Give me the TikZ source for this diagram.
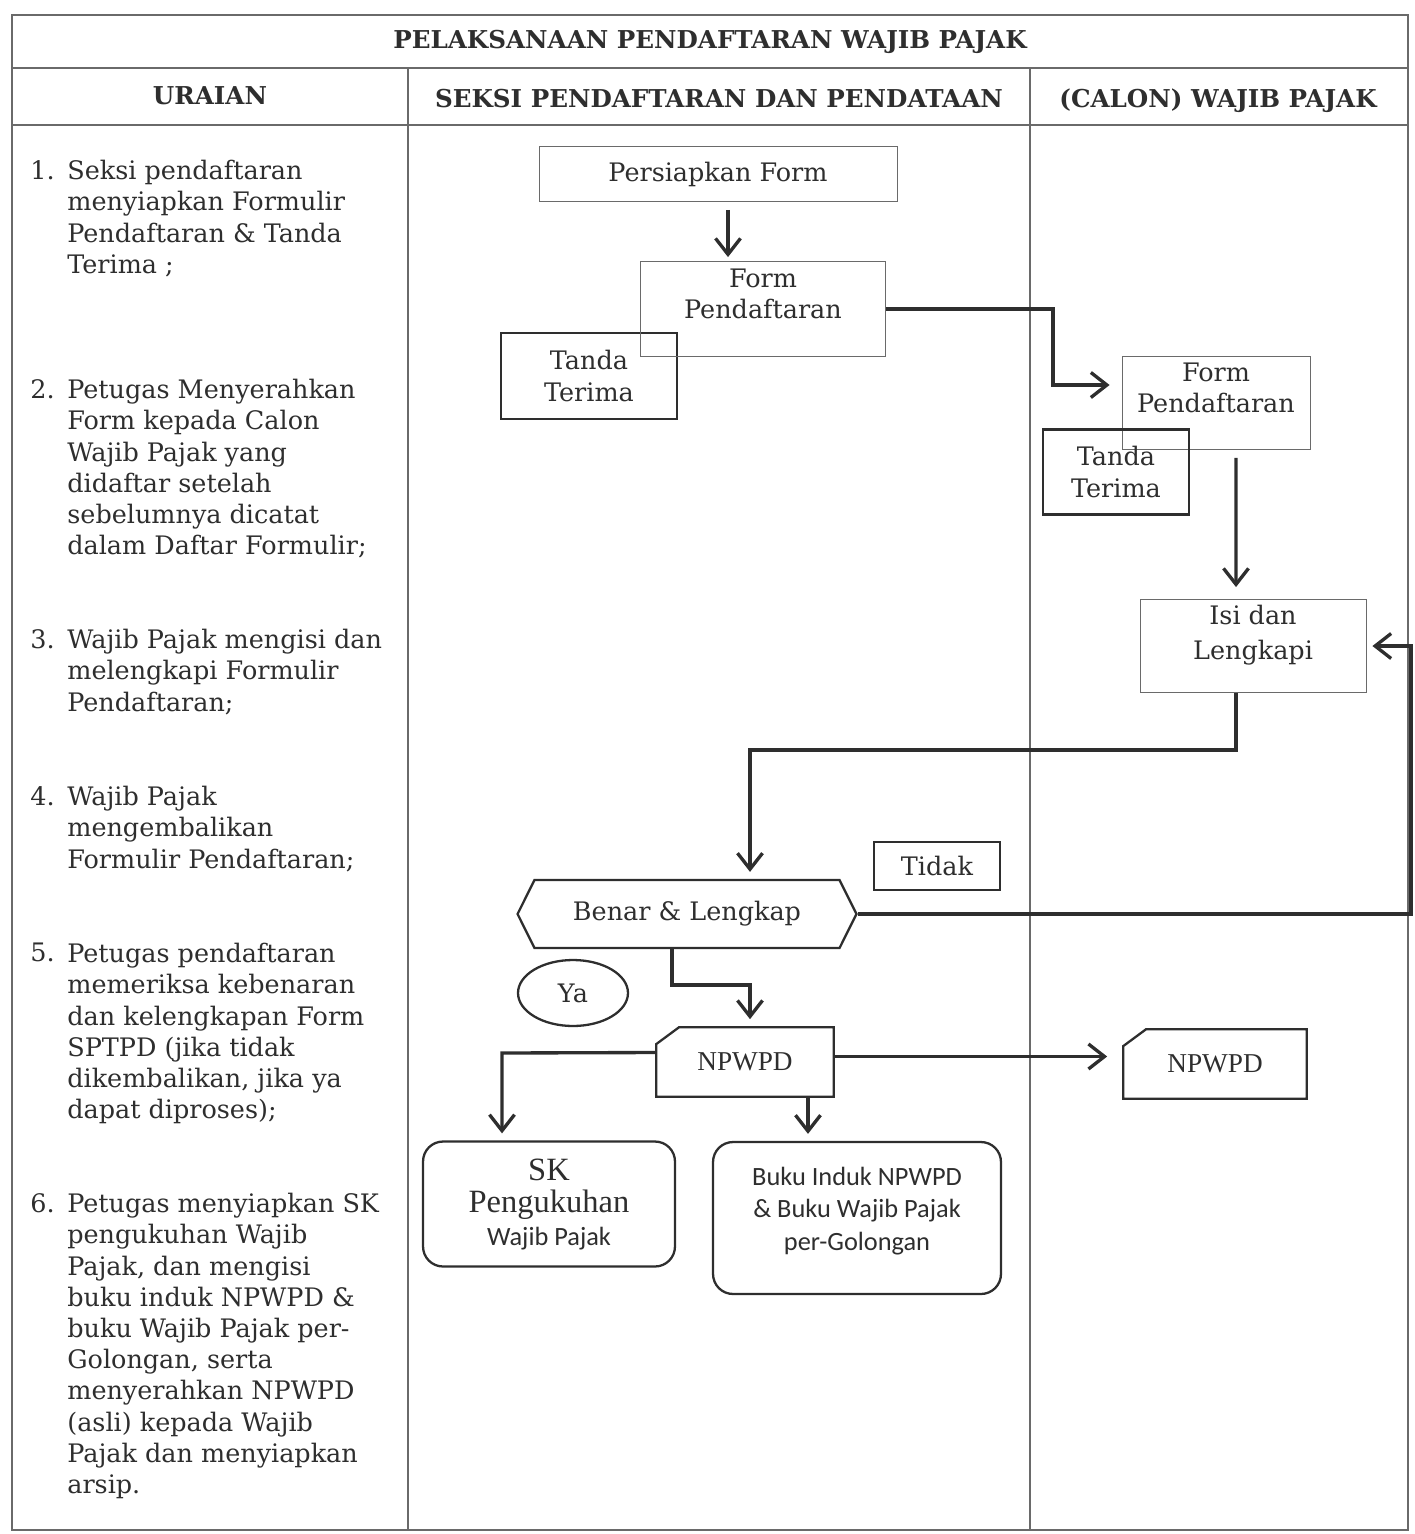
\documentclass[tikz,border=0pt]{standalone}
\usepackage{fontspec}
\setmainfont{DejaVu Serif}
\newfontfamily\cambria{Liberation Serif}
\newfontfamily\calibri{Carlito}
\usepackage{tikz}
\usetikzlibrary{positioning}
\usetikzlibrary{arrows.meta}
\usetikzlibrary{shapes.geometric, shapes.symbols}

\definecolor{ink}{HTML}{2E2E2E}
\definecolor{rule}{HTML}{6A6A6A}

% card with a cut corner (top left)
\newcommand{\cardedge}[1]{\draw[draw=ink, line width=1.3pt] (#1.south west) -- ([yshift=-0.34cm]#1.north west) -- ([xshift=0.46cm]#1.north west) -- (#1.north east) -- (#1.south east) -- cycle;}

\begin{document}
\begin{tikzpicture}[x=0.02cm, y=-0.02cm,
    txt/.style={font=\fontsize{14.5}{17.75}\selectfont, text=ink, align=center, inner sep=0pt},
    thinbox/.style={txt, draw=rule, line width=0.5pt},
    thickbox/.style={txt, draw=ink, line width=1.3pt},
    roundbox/.style={thickbox, rounded corners=0.4cm},
    uraian/.style={font=\fontsize{14.5}{17.75}\selectfont, text=ink, align=left, inner sep=0pt, anchor=north west},
    head/.style={font=\fontsize{14}{17}\selectfont\bfseries, text=ink, inner sep=0pt},
    arr/.style={draw=ink, line width=1.9pt, -{Straight Barb[length=0.32cm, width=0.5cm]}}]
    \useasboundingbox (0,0) rectangle (1414,1534);

    % Table
    \draw[rule, line width=0.8pt] (12,15) rectangle (1408,1530);
    \draw[rule, line width=0.8pt] (12,68) -- (1408,68);
    \draw[rule, line width=0.8pt] (12,125) -- (1408,125);
    \draw[rule, line width=0.8pt] (408,68) -- (408,1530);
    \draw[rule, line width=0.8pt] (1030,68) -- (1030,1530);

    % Headings
    \node[head] (judul) at (710,42) {PELAKSANAAN PENDAFTARAN WAJIB PAJAK};
    \node[head] (kolom1) at (210,96) {URAIAN};
    \node[head] (kolom2) at (719,99) {SEKSI PENDAFTARAN DAN PENDATAAN};
    \node[head] (kolom3) at (1218,101) {(CALON) WAJIB PAJAK};

    % Uraian
    \node[uraian] (no1) at (30,160) {1.};
    \node[uraian] (ur1) at (67,160) {Seksi pendaftaran\\menyiapkan Formulir\\Pendaftaran \& Tanda\\Terima ;};
    \node[uraian] (no2) at (30,379) {2.};
    \node[uraian] (ur2) at (67,379) {Petugas Menyerahkan\\Form kepada Calon\\Wajib Pajak yang\\didaftar setelah\\sebelumnya dicatat\\dalam Daftar Formulir;};
    \node[uraian] (no3) at (30,629) {3.};
    \node[uraian] (ur3) at (67,629) {Wajib Pajak mengisi dan\\melengkapi Formulir\\Pendaftaran;};
    \node[uraian] (no4) at (30,786) {4.};
    \node[uraian] (ur4) at (67,786) {Wajib Pajak\\mengembalikan\\Formulir Pendaftaran;};
    \node[uraian] (no5) at (30,943) {5.};
    \node[uraian] (ur5) at (67,943) {Petugas pendaftaran\\memeriksa kebenaran\\dan kelengkapan Form\\SPTPD (jika tidak\\dikembalikan, jika ya\\dapat diproses);};
    \node[uraian] (no6) at (30,1193) {6.};
    \node[uraian] (ur6) at (67,1193) {Petugas menyiapkan SK\\pengukuhan Wajib\\Pajak, dan mengisi\\buku induk NPWPD \&\\buku Wajib Pajak per-\\Golongan, serta\\menyerahkan NPWPD\\(asli) kepada Wajib\\Pajak dan menyiapkan\\arsip.};

    % Seksi pendaftaran dan pendataan
    \node[thinbox, minimum width=7.16cm, minimum height=1.1cm] (persiapan) at (718,174) {Persiapkan Form};
    \node[thickbox, minimum width=3.52cm, minimum height=1.72cm] (tandaA) at (589,376) {Tanda\\Terima};
    \node[thinbox, minimum width=4.9cm, minimum height=1.9cm] (formA) at (763,309) {Form\\Pendaftaran\\\mbox{}};
    \node[txt, minimum width=6.78cm, minimum height=1.36cm, draw=ink, line width=1.3pt,
          shape=signal, signal to=west and east, signal pointer angle=127] (cek) at (687,914) {Benar \& Lengkap};
    \node[thickbox, minimum width=2.52cm, minimum height=0.96cm] (tidak) at (937,866) {Tidak};
    \node[txt, ellipse, draw=ink, line width=1.3pt, minimum width=2.2cm, minimum height=1.32cm] (ya) at (573,993) {Ya};
    \node[txt, font=\cambria\fontsize{15.5}{18}\selectfont, minimum width=3.54cm, minimum height=1.38cm] (npwpdA) at (745,1062) {NPWPD};
    \cardedge{npwpdA}
    \node[roundbox, font=\cambria\fontsize{18.5}{18.5}\selectfont, minimum width=5.04cm, minimum height=2.5cm] (sk) at (549,1204) {SK\\Pengukuhan\\{\calibri\fontsize{15}{18.5}\selectfont Wajib Pajak}};
    \node[roundbox, font=\calibri\fontsize{15}{18.5}\selectfont, minimum width=5.76cm, minimum height=3.04cm] (buku) at (857,1218) {Buku Induk NPWPD\\\& Buku Wajib Pajak\\per-Golongan\\[-8pt]\mbox{}};

    % (Calon) wajib pajak
    \node[thinbox, minimum width=3.76cm, minimum height=1.86cm] (formB) at (1216,403) {Form\\Pendaftaran\\\mbox{}};
    \node[thickbox, minimum width=2.92cm, minimum height=1.7cm] (tandaB) at (1116,472) {Tanda\\Terima};
    \node[thinbox, minimum width=4.52cm, minimum height=1.86cm] (isi) at (1253,646) {Isi dan\\[2pt]Lengkapi\\[-2pt]\mbox{}};
    \node[txt, font=\cambria\fontsize{15.5}{18}\selectfont, minimum width=3.66cm, minimum height=1.38cm] (npwpdB) at (1215,1064) {NPWPD};
    \cardedge{npwpdB}

    % Connectors
    \coordinate (k1) at (1053,385);
    \coordinate (k2) at (750,750);
    \coordinate (k3) at (1411,914);
    \coordinate (k4) at (750,985);
    \coordinate (k5) at (502,1053);
    \draw[arr, shorten >=0.08cm] ([xshift=0.2cm, yshift=-0.16cm]persiapan.south) -- ([xshift=0.2cm]persiapan.south |- formA.north);
    \draw[arr, shorten >=0.24cm] (formA.east) -| (k1) -- (k1 -| formB.west);
    \draw[arr, shorten >=0.24cm] ([xshift=0.4cm, yshift=-0.16cm]formB.south) -- ([xshift=-0.34cm]isi.north);
    \draw[arr, shorten >=0.14cm] ([xshift=-0.34cm]isi.south) |- (k2) -- (k2 |- cek.north);
    \draw[arr, shorten >=0.12cm] (cek.east) -- (k3) |- (isi.east);
    \draw[arr, shorten >=0.16cm] ([xshift=-0.3cm]cek.south) |- (k4) -- (k4 |- npwpdA.north);
    \draw[arr, shorten >=0.14cm] ([yshift=0.19cm]npwpdA.west) -- (k5) -- (k5 |- sk.north);
    \draw[arr, shorten >=0.14cm] ([xshift=1.26cm]npwpdA.south) -- ([xshift=1.26cm]npwpdA.south |- buku.north);
    \draw[arr, shorten >=0.32cm] ([yshift=0.11cm]npwpdA.east) -- ([yshift=0.11cm]npwpdA.east -| npwpdB.west);
\end{tikzpicture}
\end{document}
